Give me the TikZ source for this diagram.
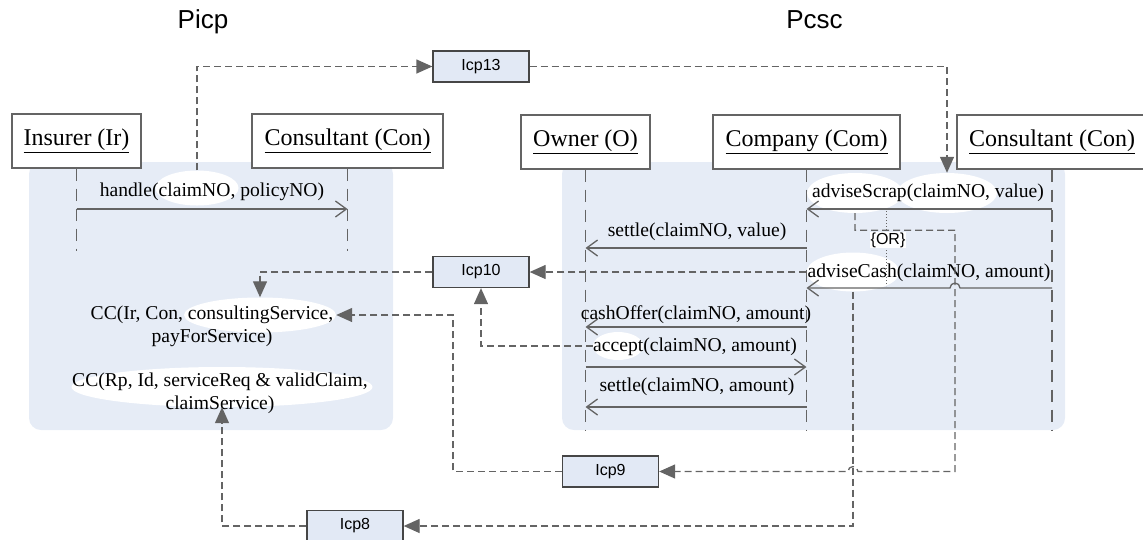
\documentclass[tikz,border=0pt]{standalone}
\usepackage{fontspec}
\setmainfont{Liberation Serif}
\newfontfamily\labelsans{Liberation Sans}
\usetikzlibrary{arrows.meta,shapes.geometric}
\definecolor{regionblue}{RGB}{230,236,246}
\definecolor{icpblue}{RGB}{226,233,245}
\definecolor{linegray}{RGB}{100,100,100}
\definecolor{boxgray}{RGB}{70,70,70}
\tikzset{
  actor/.style={draw=linegray, line width=1.3pt, fill=white, minimum height=54pt, inner sep=0pt, font=\fontsize{24}{28}\selectfont},
  lifeline/.style={draw=linegray, line width=1.4pt, dash pattern=on 12pt off 8pt},
  msg/.style={draw=linegray, line width=1.3pt, -{Straight Barb[length=11pt,width=16pt]}},
  msgtext/.style={inner sep=0pt, font=\fontsize{19.6}{23}\selectfont},
  blob/.style={ellipse, fill=white, draw=none, inner sep=0pt},
  icp/.style={draw=boxgray, fill=icpblue, line width=1.3pt, minimum width=96pt, minimum height=31pt, inner sep=0pt, font=\labelsans\fontsize{16}{18}\selectfont},
  flow/.style={draw=linegray, line width=1.3pt, dash pattern=on 7pt off 4pt, -{Triangle[length=16pt,width=14pt]}},
  title/.style={anchor=base, font=\labelsans\fontsize{26}{30}\selectfont},
}
\begin{document}
\begin{tikzpicture}[x=1pt, y=-1pt]
\useasboundingbox (0,0) rectangle (1143,539);
% process groups
\fill[regionblue, rounded corners=12pt] (29,162) rectangle (393,430);
\fill[regionblue, rounded corners=12pt] (562,162) rectangle (1065,430);
\node[title] (picp) at (203,28.5) {Picp};
\node[title] (pcsc) at (814.5,28.5) {Pcsc};
% participants
\node[actor, minimum width=129pt] (ir) at (76.5,141) {\underline{Insurer (Ir)}};
\node[actor, minimum width=191pt] (conl) at (347.5,141) {\underline{Consultant (Con)}};
\node[actor, minimum width=129pt] (own) at (585.5,142) {\underline{Owner (O)}};
\node[actor, minimum width=187pt] (com) at (806.5,142) {\underline{Company (Com)}};
\node[actor, minimum width=190pt] (conr) at (1052,142) {\underline{Consultant (Con)}};
% white ellipses behind the labels
\node[blob, minimum width=83pt, minimum height=35pt] (ehandle) at (197,188) {};
\node[blob, minimum width=96pt, minimum height=40pt] (escrap1) at (855,193) {};
\node[blob, minimum width=100pt, minimum height=40pt] (escrap2) at (947,193) {};
\node[blob, minimum width=93pt, minimum height=39pt] (ecash) at (853,272) {};
\node[blob, minimum width=50pt, minimum height=28pt] (eaccept) at (618,346) {};
\node[blob, minimum width=152pt, minimum height=35pt] (ecc1) at (260,315) {};
\node[blob, minimum width=301pt, minimum height=40pt] (ecc2) at (222,387) {};
% lifelines
\draw[lifeline] (ir.south) -- ++(0,82);
\draw[lifeline] (conl.south) -- ++(0,82);
\draw[lifeline] (own.south) -- ++(0,261);
\draw[lifeline] (com.south) -- ++(0,261);
\draw[lifeline] (conr.south) -- ++(0,261);
% messages
\draw[msg] (ir.south |- 0,209) -- (conl.south |- 0,209);
\node[msgtext] (mhandle) at (212,192) {handle(claimNO, policyNO)};
\draw[msg] (com.south |- 0,248) -- (own.south |- 0,248);
\node[msgtext] (msettlev) at (697,232) {settle(claimNO, value)};
\draw[msg] (conr.south |- 0,209) -- (com.south |- 0,209);
\node[msgtext] (mscrap) at (928,193) {adviseScrap(claimNO, value)};
\draw[linegray, line width=1pt, dotted] (886,211) -- (886,286);
\node[fill=white, inner sep=1pt, font=\labelsans\fontsize{16}{18}\selectfont] (or) at (888,240) {\{OR\}};
\draw[msg] (conr.south |- 0,288) -- (960,288) arc[start angle=0, end angle=180, radius=5pt] -- (com.south |- 0,288);
\node[msgtext] (mcash) at (929,273) {adviseCash(claimNO, amount)};
\draw[msg] (com.south |- 0,327) -- (own.south |- 0,327);
\node[msgtext] (moffer) at (696,315) {cashOffer(claimNO, amount)};
\draw[msg] (own.south |- 0,367) -- (com.south |- 0,367);
\node[msgtext] (maccept) at (695,347) {accept(claimNO, amount)};
\draw[msg] (com.south |- 0,407) -- (own.south |- 0,407);
\node[msgtext] (msettlea) at (697,387) {settle(claimNO, amount)};
% commitments
\node[msgtext, align=center] (cc1) at (212,326) {CC(Ir, Con, consultingService,\\payForService)};
\node[msgtext, align=center] (cc2) at (220,393) {CC(Rp, Id, serviceReq \& validClaim,\\claimService)};
% interaction protocols
\node[icp] (icp13) at (481,66.5) {Icp13};
\node[icp] (icp10) at (481,272) {Icp10};
\node[icp] (icp9) at (610.5,471.5) {Icp9};
\node[icp] (icp8) at (355,526) {Icp8};
\coordinate (k9) at (453,315);
\coordinate (j9) at (955,471.5);
\draw[flow] (ehandle.north) |- (icp13.west);
\draw[flow] (icp13.east) -| (escrap2.north);
\draw[flow] (ecash.west) -- (icp10.east);
\draw[flow] (icp10.west) -| (ecc1.north);
\draw[flow] (eaccept.west) -| (icp10.south);
\draw[flow] (escrap1.south) -- ++(0,17) -| (j9) -- (858,471.5) arc[start angle=0, end angle=180, radius=5pt] -- (icp9.east);
\draw[flow] (icp9.west) -| (k9) -- (ecc1.east);
\draw[flow] (ecash.south) |- (icp8.east);
\draw[flow] (icp8.west) -| (ecc2.south);
\end{tikzpicture}
\end{document}
